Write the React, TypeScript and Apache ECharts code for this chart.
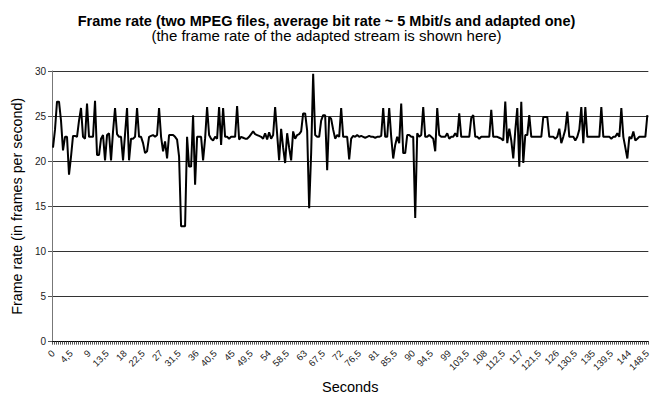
import React, { useEffect, useRef } from "react";
import * as echarts from "echarts";

const titleText = "Frame rate (two MPEG files, average bit rate ~ 5 Mbit/s and adapted one)";
const subtitleText = "(the frame rate of the adapted stream is shown here)";
const xAxisName = "Seconds";
const yAxisName = "Frame rate (in frames per second)";

// time stamps, every 0.5 s from 0 to 148.5
const seconds: string[] = [];
for (let k = 0; k < 298; k++) seconds.push(String(k / 2).replace(".", ","));

const frameRate0: number[] = [
  21.5, 23.5, 26.6, 26.6, 24.5, 21.2, 22.7, 22.7, 18.5, 20.5,
  22.8, 22.8, 22.7, 24.5, 25.9, 22.7, 22.5, 26.4, 22.7, 22.7,
  22.7, 26.7, 20.7, 20.7, 22.5, 22.9, 20.1, 22.9, 23.1, 20.1,
  23.3, 25.9, 23.0, 22.7, 22.7, 20.1, 23.0, 25.9, 20.1, 22.5,
  22.5, 22.7, 25.9, 22.7, 22.7, 22.0, 20.9, 21.1, 22.7, 22.8,
];
const frameRate1: number[] = [
  22.9, 22.7, 22.9, 25.9, 22.7, 21.1, 22.2, 20.3, 22.9, 22.9,
  22.9, 22.7, 22.4, 20.5, 12.8, 12.8, 12.8, 22.7, 19.4, 19.4,
  25.1, 17.4, 22.7, 22.7, 22.7, 20.1, 22.5, 26.0, 22.9, 22.5,
  22.3, 22.7, 22.5, 26.0, 21.8, 25.9, 22.7, 22.7, 22.5, 22.7,
  22.7, 22.7, 26.1, 22.4, 22.7, 22.6, 22.5, 22.5, 22.7, 23.0,
];
const frameRate2: number[] = [
  23.3, 23.0, 22.9, 22.8, 22.7, 22.5, 23.1, 22.4, 23.2, 22.5,
  22.9, 26.0, 23.0, 20.1, 23.6, 21.5, 19.8, 23.1, 21.5, 20.1,
  23.3, 22.5, 22.9, 23.0, 23.3, 25.3, 25.3, 23.4, 14.8, 20.9,
  29.7, 22.9, 22.7, 22.7, 24.5, 25.1, 25.1, 19.0, 24.9, 24.7,
  23.5, 22.5, 22.9, 22.7, 25.9, 22.7, 22.7, 22.7, 20.2, 22.5,
];
const frameRate3: number[] = [
  22.8, 22.7, 22.9, 22.7, 22.8, 22.7, 22.6, 22.7, 22.8, 22.7,
  22.7, 22.6, 22.7, 22.7, 22.8, 25.9, 22.7, 22.7, 25.9, 22.7,
  20.3, 21.8, 22.7, 22.0, 26.4, 20.9, 20.9, 22.9, 22.9, 22.7,
  22.7, 13.7, 23.1, 22.7, 22.9, 26.0, 22.7, 22.7, 22.9, 22.7,
  22.5, 21.1, 25.9, 22.9, 22.7, 22.7, 22.7, 23.1, 22.5, 22.7,
];
const frameRate4: number[] = [
  22.7, 23.1, 22.7, 25.3, 22.7, 22.7, 22.7, 22.7, 22.7, 24.8,
  25.1, 22.7, 22.7, 22.5, 22.7, 22.7, 22.7, 22.7, 22.7, 25.7,
  22.7, 22.7, 22.7, 22.6, 22.5, 22.3, 26.6, 22.0, 23.6, 22.3,
  20.3, 23.4, 25.9, 19.4, 26.6, 19.8, 22.9, 22.9, 25.1, 22.7,
  22.7, 22.7, 22.7, 22.7, 22.7, 24.9, 24.9, 24.9, 22.7, 22.7,
];
const frameRate5: number[] = [
  22.7, 22.5, 22.7, 23.6, 22.0, 22.7, 23.5, 25.5, 22.7, 22.7,
  22.7, 22.3, 22.7, 23.5, 26.0, 22.0, 26.0, 22.7, 22.7, 22.7,
  22.7, 22.7, 22.7, 22.7, 26.0, 22.7, 22.7, 22.7, 22.7, 22.5,
  22.7, 22.7, 23.1, 22.7, 25.9, 22.7, 21.5, 20.3, 22.7, 22.5,
  23.3, 22.3, 22.5, 22.7, 22.7, 22.7, 22.7, 25.1,
];
const frameRate = [...frameRate0, ...frameRate1, ...frameRate2, ...frameRate3, ...frameRate4, ...frameRate5];

const FONT = "'Liberation Sans', Arial, sans-serif";

export default function App() {
  const ref = useRef<HTMLDivElement>(null);
  useEffect(() => {
    if (!ref.current) return;
    const chart = echarts.init(ref.current, undefined, { renderer: "svg" });
    chart.setOption({
      animation: false,
      backgroundColor: "#ffffff",
      textStyle: { fontFamily: FONT },
      title: {
        text: titleText,
        subtext: subtitleText,
        left: "center",
        top: 8,
        itemGap: 0,
        textStyle: { fontFamily: FONT, fontSize: 14.5, fontWeight: "bold", color: "#000" },
        subtextStyle: { fontFamily: FONT, fontSize: 15, color: "#000" },
      },
      grid: { left: 52, right: 0, top: 71, bottom: 56, containLabel: false },
      xAxis: {
        type: "category",
        data: seconds,
        boundaryGap: true,
        name: xAxisName,
        nameLocation: "middle",
        nameGap: 35,
        nameTextStyle: { fontFamily: FONT, fontSize: 14.5, color: "#000" },
        axisLine: { lineStyle: { color: "#000", width: 1 } },
        axisTick: { show: true, interval: 0, length: 3, lineStyle: { color: "#555" } },
        axisLabel: {
          interval: 8,
          rotate: 45,
          fontSize: 9.5,
          color: "#222",
          fontFamily: FONT,
          margin: 10,
        },
        splitLine: { show: false },
      },
      yAxis: {
        type: "value",
        min: 0,
        max: 30,
        interval: 5,
        name: yAxisName,
        nameLocation: "middle",
        nameGap: 26,
        nameRotate: 90,
        nameTextStyle: { fontFamily: FONT, fontSize: 14.3, color: "#000" },
        axisLine: { show: true, lineStyle: { color: "#777", width: 1 } },
        axisTick: { show: true, length: 4, lineStyle: { color: "#555" } },
        axisLabel: { fontSize: 10, color: "#222", fontFamily: FONT, margin: 6 },
        splitLine: { show: true, lineStyle: { color: "#333", width: 1 } },
      },
      series: [
        {
          type: "line",
          data: frameRate,
          symbol: "none",
          lineStyle: { color: "#000", width: 2 },
        },
      ],
    });
    return () => chart.dispose();
  }, []);
  return (
    <div
      ref={ref}
      style={{ position: "fixed", left: 0, top: 0, width: 653, height: 399 }}
    />
  );
}
